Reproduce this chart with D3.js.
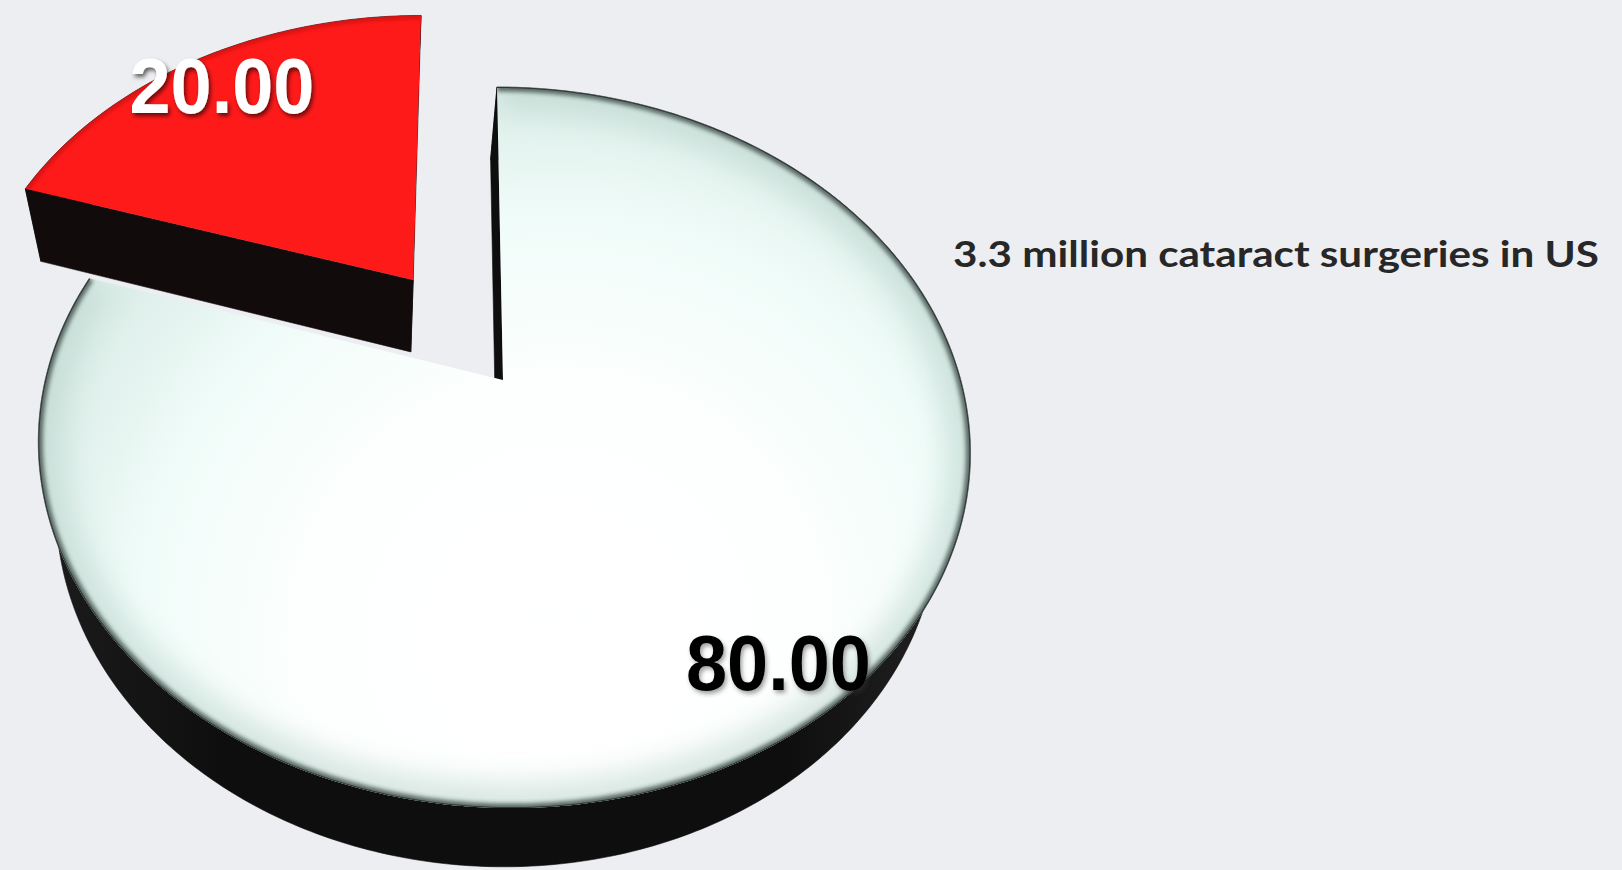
<!DOCTYPE html>
<html>
<head>
<meta charset="utf-8">
<script src="https://cdn.jsdelivr.net/npm/d3@7"></script>
<style>
  html, body { margin: 0; padding: 0; background: #edeef1; overflow: hidden; }
  svg { display: block; }
</style>
</head>
<body>
<svg id="chart" width="1622" height="870"></svg>
<script>
// ---------------- data ----------------
const categories = ["Other", "Highlighted"];
const values = [80, 20];
const valueLabels = values.map(d3.format(".2f"));   // "80.00", "20.00"
const topColors = ["#ffffff", "#ff1a1a"];
const sideColors = ["#0e0e0e", "#120b0b"];
const explodeDist = [0, 0.365];
const titleText = "3.3 million cataract surgeries in US";

// ---------------- view (3D camera) ----------------
const view = {
  tilt: 49.46 * Math.PI / 180,
  dist: 3.471,
  focal: 1589,
  camX: 0.083,
  px: 465, py: 380,
  shearZ: 20,          // extra horizontal skew of the extrusion (px per unit depth)
  thickness: 0.25,
  labelRadius: 0.87,
  explodeShift: [0, 0.04]
};
const sT = Math.sin(view.tilt), cT = Math.cos(view.tilt);
function project(x, y, z) {
  const X = x + view.camX;
  const V = y * sT + z * cT;
  const Wd = view.dist + y * cT - z * sT;
  return [view.px + view.focal * X / Wd + view.shearZ * z, view.py - view.focal * V / Wd];
}
const camWorld = [-view.camX, -view.dist * cT];

const svg = d3.select("#chart");
const defs = svg.append("defs");

// gradients / filters
const rg = defs.append("radialGradient").attr("id", "whiteTop")
  .attr("gradientUnits", "userSpaceOnUse")
  .attr("cx", 560).attr("cy", 640).attr("r", 560);
[[0, "#ffffff"], [0.45, "#fdfffe"], [0.75, "#f0fcf9"], [1, "#dcede8"]]
  .forEach(([o, c]) => rg.append("stop").attr("offset", o).attr("stop-color", c));

const sideGrad = defs.append("linearGradient").attr("id", "whiteSide")
  .attr("gradientUnits", "userSpaceOnUse")
  .attr("x1", 40).attr("y1", 0).attr("x2", 970).attr("y2", 0);
[[0, "#1c1c1c"], [0.2, "#0e0e0e"], [0.8, "#0e0e0e"], [1, "#252525"]]
  .forEach(([o, c]) => sideGrad.append("stop").attr("offset", o).attr("stop-color", c));

function blurFilter(id, sd) {
  const f = defs.append("filter").attr("id", id)
    .attr("x", "-20%").attr("y", "-20%").attr("width", "140%").attr("height", "140%");
  f.append("feGaussianBlur").attr("stdDeviation", sd);
}
blurFilter("blurS", 2.2);
blurFilter("blurW", 14);

function shadowFilter(id, color, op) {
  const f = defs.append("filter").attr("id", id)
    .attr("x", "-20%").attr("y", "-30%").attr("width", "140%").attr("height", "160%");
  f.append("feDropShadow").attr("dx", 2).attr("dy", 3).attr("stdDeviation", 2)
    .attr("flood-color", color).attr("flood-opacity", op);
}
shadowFilter("shadowDark", "#000", 0.6);
shadowFilter("shadowGray", "#333", 0.45);

// ---------------- pie geometry ----------------
const pie = d3.pie().sort(null).value(d => d).startAngle(0).endAngle(2 * Math.PI);
const arcsData = pie(values);
const line = d3.line();

function offsetOf(d) {
  const e = explodeDist[d.index];
  const m = (d.startAngle + d.endAngle) / 2 + view.explodeShift[d.index];
  return [e * Math.sin(m), e * Math.cos(m)];
}
function pt(d, a, r, z) {
  const o = offsetOf(d);
  return project(o[0] + r * Math.sin(a), o[1] + r * Math.cos(a), z);
}
function arcAngles(d) {
  const n = Math.max(8, Math.ceil((d.endAngle - d.startAngle) / (Math.PI / 240)));
  return d3.range(n + 1).map(i => d.startAngle + (d.endAngle - d.startAngle) * i / n);
}
function radialVisible(d, a, isStart) {
  const o = offsetOf(d);
  const n = isStart ? [-Math.cos(a), Math.sin(a)] : [Math.cos(a), -Math.sin(a)];
  return n[0] * (camWorld[0] - o[0]) + n[1] * (camWorld[1] - o[1]) > 0;
}

const T = view.thickness;
// farther slices first
const order = arcsData.slice().sort((a, b) => offsetOf(b)[1] - offsetOf(a)[1]);
const gPie = svg.append("g");

order.forEach(d => {
  const g = gPie.append("g");
  const i = d.index;
  const angs = arcAngles(d);
  const sideFill = i === 0 ? "url(#whiteSide)" : sideColors[i];

  // outer curved side
  const topArc = angs.map(a => pt(d, a, 1, 0));
  const botArc = angs.map(a => pt(d, a, 1, -T)).reverse();
  g.append("path").attr("d", line(topArc.concat(botArc)) + "Z")
    .attr("fill", sideFill).attr("stroke", sideColors[i]).attr("stroke-width", 0.6);

  // radial side faces
  [[d.startAngle, true], [d.endAngle, false]].forEach(([a, isStart]) => {
    if (!radialVisible(d, a, isStart)) return;
    const q = [pt(d, a, 0, 0), pt(d, a, 1, 0), pt(d, a, 1, -T), pt(d, a, 0, -T)];
    g.append("path").attr("d", line(q) + "Z")
      .attr("fill", sideColors[i]).attr("stroke", sideColors[i]).attr("stroke-width", 0.6);
  });

  // top face
  const topPts = [pt(d, 0, 0, 0)].concat(topArc);
  const topD = line(topPts) + "Z";
  g.append("path").attr("d", topD)
    .attr("fill", i === 0 ? "url(#whiteTop)" : topColors[i]);

  // rim shading along the outer arc
  const clipId = "clip" + i;
  defs.append("clipPath").attr("id", clipId).append("path").attr("d", topD);
  const rim = g.append("g").attr("clip-path", `url(#${clipId})`);
  const arcD = line(topArc);
  if (i === 0) {
    rim.append("path").attr("d", arcD).attr("fill", "none")
      .attr("stroke", "#b9d3cb").attr("stroke-width", 50).attr("opacity", 0.55)
      .attr("filter", "url(#blurW)");
    rim.append("path").attr("d", arcD).attr("fill", "none")
      .attr("stroke", "#4c5a56").attr("stroke-width", 9).attr("opacity", 0.9)
      .attr("filter", "url(#blurS)");
    rim.append("path").attr("d", arcD).attr("fill", "none")
      .attr("stroke", "#2e3533").attr("stroke-width", 2);
  } else {
    rim.append("path").attr("d", arcD).attr("fill", "none")
      .attr("stroke", "#a80c0c").attr("stroke-width", 6).attr("opacity", 0.6)
      .attr("filter", "url(#blurS)");
  }
});

// ---------------- labels ----------------
const labelColors = ["#000000", "#ffffff"];
const labelShadows = ["url(#shadowGray)", "url(#shadowDark)"];
arcsData.forEach(d => {
  const m = (d.startAngle + d.endAngle) / 2;
  const p = pt(d, m, view.labelRadius, 0);
  svg.append("text")
    .attr("x", p[0]).attr("y", p[1]).attr("dy", "0.36em")
    .attr("text-anchor", "middle")
    .attr("font-family", "'Liberation Sans', Arial, Helvetica, sans-serif")
    .attr("font-weight", 700)
    .attr("font-size", 77)
    .attr("textLength", 185).attr("lengthAdjust", "spacingAndGlyphs")
    .attr("fill", labelColors[d.index])
    .attr("filter", labelShadows[d.index])
    .text(valueLabels[d.index]);
});

// ---------------- title ----------------
svg.append("text")
  .attr("x", 953).attr("y", 267)
  .attr("font-family", "Lato, 'Open Sans', sans-serif")
  .attr("font-weight", 700)
  .attr("font-size", 37)
  .attr("textLength", 646).attr("lengthAdjust", "spacingAndGlyphs")
  .attr("fill", "#272727")
  .text(titleText);
</script>
</body>
</html>
